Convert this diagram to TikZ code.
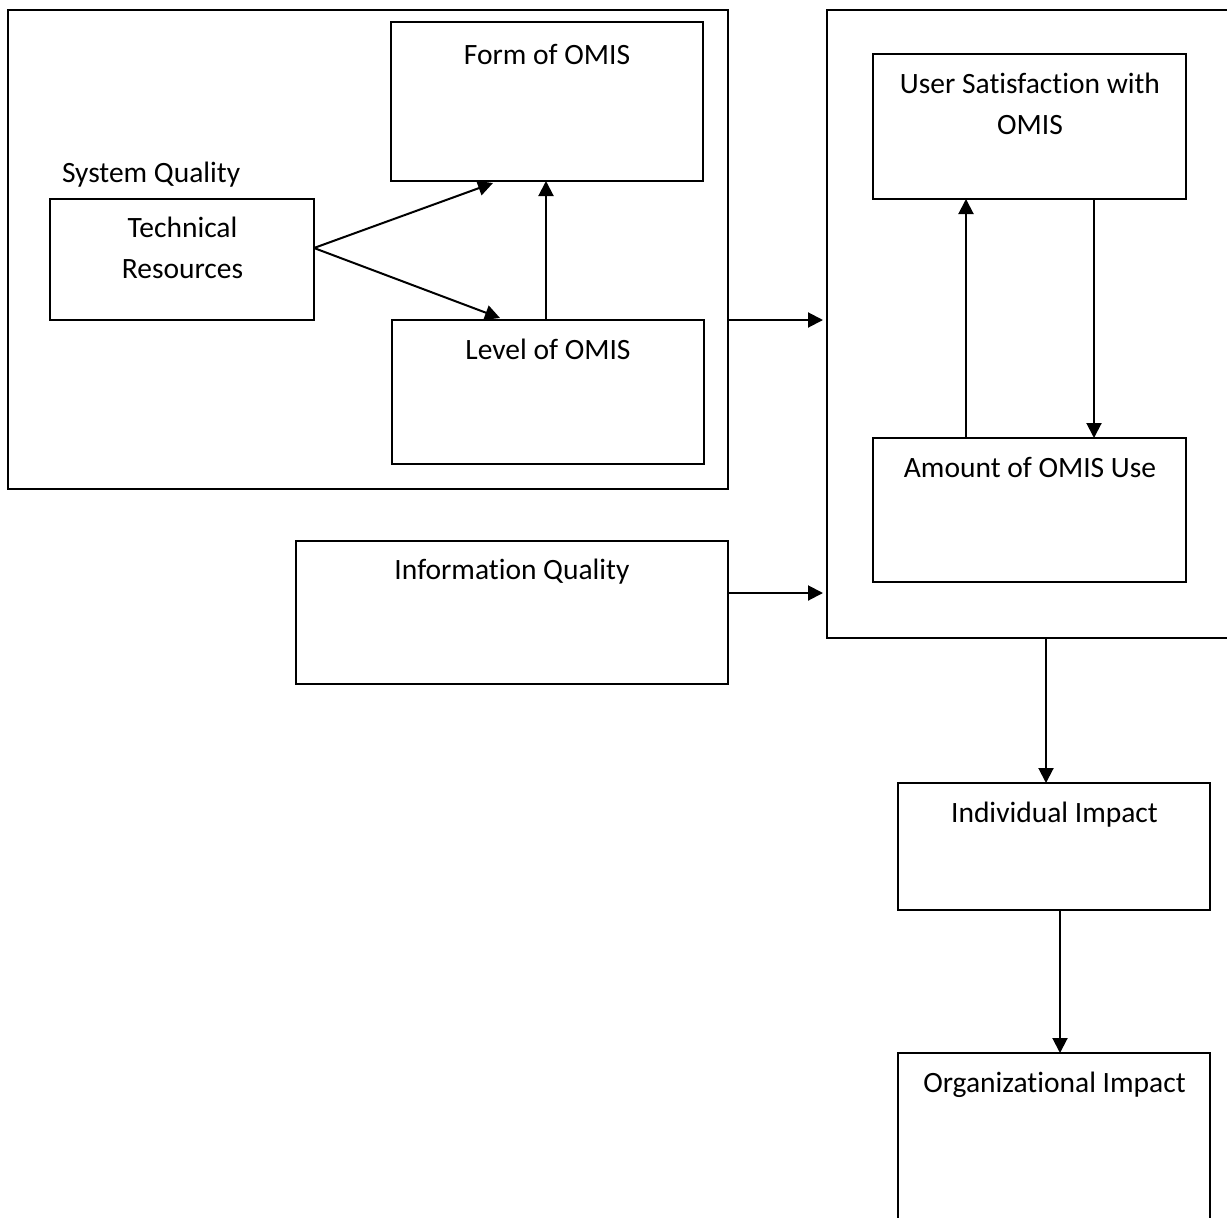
\documentclass[tikz,border=0pt]{standalone}
\usepackage{fontspec}
\setmainfont[Ligatures={NoCommon}]{Carlito}
\usetikzlibrary{arrows.meta,calc}
\begin{document}
\begin{tikzpicture}[x=1pt,y=-1pt,
  line width=2pt,
  box/.style={draw,rectangle,inner sep=0pt,outer sep=0pt},
  lbl/.style={inner sep=0pt,outer sep=0pt,anchor=base,align=center,
    font=\fontsize{29.5pt}{41pt}\selectfont},
  arr/.style={-{Triangle[length=15pt,width=15pt]}}]
\useasboundingbox (0,0) rectangle (1227,1218);
\clip (0,0) rectangle (1227,1218);

% System quality group
\node[box,minimum width=720pt,minimum height=479pt] (sysq) at (368,249.5) {};
\node[box,minimum width=312pt,minimum height=159pt] (form) at (547,101.5) {};
\node[box,minimum width=264pt,minimum height=121pt] (tech) at (182,259.5) {};
\node[box,minimum width=312pt,minimum height=144pt] (level) at (548,392) {};
\node[lbl] (formtxt) at (547,64) {Form of OMIS};
\node[lbl,anchor=base west] (sqtxt) at (62,182) {System Quality};
% base anchor of a two-line label sits on its last line
\node[lbl] (techtxt) at (182.5,278) {Technical\\Resources};
\node[lbl] (leveltxt) at (548,359) {Level of OMIS};

% Use / satisfaction group
\node[box,minimum width=433pt,minimum height=628pt] (use) at (1043.5,324) {};
\node[box,minimum width=313pt,minimum height=145pt] (sat) at (1029.5,126.5) {};
\node[box,minimum width=313pt,minimum height=144pt] (amount) at (1029.5,510) {};
\node[lbl] (sattxt) at (1030,134) {User Satisfaction with\\OMIS};
\node[lbl] (amounttxt) at (1030,477) {Amount of OMIS Use};

% Information quality
\node[box,minimum width=432pt,minimum height=143pt] (info) at (512,612.5) {};
\node[lbl] (infotxt) at (512,579) {Information Quality};

% Impacts
\node[box,minimum width=312pt,minimum height=127pt] (indiv) at (1054,846.5) {};
\node[box,minimum width=312pt,minimum height=207pt] (org) at (1054,1156.5) {};
\node[lbl] (indivtxt) at (1054.5,822) {Individual Impact};
\node[lbl] (orgtxt) at (1054.5,1092) {Organizational Impact};

% Connectors
\coordinate (techout) at ($(tech.east)+(0,-11.5)$);
\draw[arr] (techout) -- ($(form.south)+(-54,2)$);
\draw[arr] (techout) -- ($(level.north)+(-48,-2)$);
\draw[arr] ($(level.north)+(-2,0)$) -- ($(form.south)+(-1,0)$);
\coordinate (sqout) at ($(sysq.east)+(0,70.5)$);
\draw[arr,shorten >=4pt] (sqout) -- (sqout -| use.west);
\coordinate (iqout) at ($(info.east)+(0,-19.5)$);
\draw[arr,shorten >=4pt] (iqout) -- (iqout -| use.west);
\draw[arr] (amount.north -| 966,0) -- (sat.south -| 966,0);
\draw[arr] (sat.south -| 1094,0) -- (amount.north -| 1094,0);
\draw[arr] (use.south -| 1046,0) -- (indiv.north -| 1046,0);
\draw[arr] (indiv.south -| 1060,0) -- (org.north -| 1060,0);
\end{tikzpicture}
\end{document}
